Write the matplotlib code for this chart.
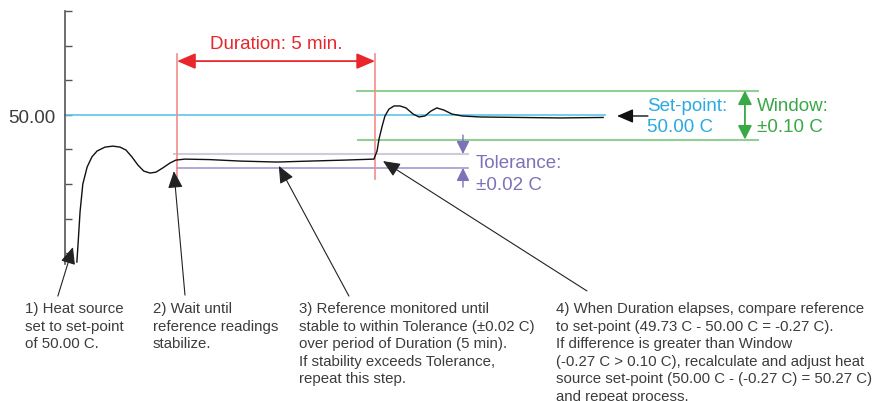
import matplotlib
matplotlib.use("Agg")
import matplotlib.pyplot as plt
from matplotlib.patches import FancyArrowPatch

plt.rcParams['font.family'] = ['Liberation Sans', 'DejaVu Sans']

# ---- data (time in minutes, temperature in C) ----
time_min = [0.30, 0.33, 0.38, 0.45, 0.56, 0.68, 0.81, 1.01, 1.21, 1.39, 1.54, 1.69,
            1.84, 1.99, 2.15, 2.30, 2.47, 2.65, 2.80, 3.03, 3.66, 4.42, 5.35, 6.19,
            7.07, 7.80, 7.88, 7.93, 8.01, 8.08, 8.18, 8.31, 8.46, 8.61, 8.79, 8.94,
            9.09, 9.24, 9.39, 9.57, 9.77, 10.03, 10.48, 11.49, 12.50, 13.59]
temp_c = [49.400, 49.473, 49.604, 49.718, 49.788, 49.829, 49.853, 49.869, 49.873,
          49.869, 49.857, 49.829, 49.796, 49.771, 49.763, 49.767, 49.784, 49.804,
          49.816, 49.820, 49.818, 49.812, 49.808, 49.812, 49.816, 49.820, 49.853,
          49.902, 49.955, 49.996, 50.024, 50.037, 50.037, 50.029, 50.004, 49.992,
          49.996, 50.016, 50.029, 50.020, 50.004, 49.996, 49.992, 49.990, 49.988,
          49.990]

setpoint = 50.00
window = 0.10
tol_upper = 49.841
tol_lower = 49.784
duration_start = 2.83
duration_end = 7.83
y_ticks = [50.4245, 50.2816, 50.1429, 50.0, 49.8612, 49.7184, 49.5755, 49.4367]
y_tick_labels = ["", "", "", "50.00", "", "", "", ""]

step_texts = [
    "1) Heat source\nset to set-point\nof 50.00 C.",
    "2) Wait until\nreference readings\nstabilize.",
    "3) Reference monitored until\nstable to within Tolerance (\u00b10.02 C)\n"
    "over period of Duration (5 min).\nIf stability exceeds Tolerance,\nrepeat this step.",
    "4) When Duration elapses, compare reference\n"
    "to set-point (49.73 C - 50.00 C = -0.27 C).\n"
    "If difference is greater than Window\n"
    "(-0.27 C > 0.10 C), recalculate and adjust heat\n"
    "source set-point (50.00 C - (-0.27 C) = 50.27 C)\n"
    "and repeat process.",
]
step_text_x = [-1.01, 2.21, 5.91, 12.40]
step_arrow_tail = [(-0.18, 49.261), (3.03, 49.265), (7.17, 49.261), (13.18, 49.282)]
step_arrow_head = [(0.20, 49.461), (2.75, 49.771), (5.40, 49.792), (8.03, 49.812)]

# ---- colours ----
RED = '#e8262b'
RED_LIGHT = '#f28b8b'
BLUE_LINE = '#5cc6e8'
BLUE_TEXT = '#2aaae0'
GREEN_LINE = '#93cf95'
GREEN = '#3aa845'
PURPLE_LINE = '#a49bd0'
PURPLE = '#7d72b8'
GREY_LINE = '#cfcbdc'
TEXT_GREY = '#3c3c3c'

fig = plt.figure(figsize=(8.73, 4.02), dpi=100)
ax = fig.add_axes([0, 0, 1, 1])
ax.set_xlim(-1.641, 20.404)
ax.set_ylim(48.8327, 50.4735)

for s in ['top', 'right', 'bottom']:
    ax.spines[s].set_visible(False)
ax.spines['left'].set_position(('data', 0))
ax.spines['left'].set_bounds(49.392, 50.4245)
ax.spines['left'].set_color('#555555')
ax.spines['left'].set_linewidth(1.2)
ax.set_xticks([])
ax.set_yticks(y_ticks)
ax.set_yticklabels(y_tick_labels)
ax.tick_params(axis='y', direction='in', length=5, width=1.0, color='#555555',
               pad=7, labelsize=13.5, labelcolor=TEXT_GREY)

# set-point line
ax.plot([0, 13.64], [setpoint, setpoint], color=BLUE_LINE, lw=1.2, zorder=2)
# window lines
ax.plot([7.37, 17.50], [setpoint + window] * 2, color=GREEN_LINE, lw=1.5, zorder=2)
ax.plot([7.40, 17.50], [setpoint - window] * 2, color=GREEN_LINE, lw=1.5, zorder=2)
# tolerance lines
ax.plot([2.75, 10.18], [tol_upper] * 2, color=GREY_LINE, lw=1.5, zorder=2)
ax.plot([2.83, 10.18], [tol_lower] * 2, color=PURPLE_LINE, lw=1.2, zorder=2)
# duration verticals
for t in (duration_start, duration_end):
    ax.plot([t, t], [49.739, 50.249], color=RED_LIGHT, lw=1.2, zorder=2)

# reference curve
ax.plot(time_min, temp_c, color='#111111', lw=1.0, zorder=4)


def arrow(p0, p1, color, lw, style, ms):
    a = FancyArrowPatch(p0, p1, arrowstyle=style, mutation_scale=ms, color=color,
                        lw=lw, shrinkA=0, shrinkB=0, zorder=5)
    ax.add_patch(a)


# duration arrow + label
arrow((duration_start, 50.220), (duration_end, 50.220), RED, 1.3,
      '<|-|>,head_length=0.7,head_width=0.3', 16)
ax.text((duration_start + duration_end) / 2, 50.290, "Duration: 5 min.", color=RED,
        fontsize=13.5, ha='center', va='center')

# set-point arrow + label
arrow((14.72, 49.996), (13.94, 49.996), '#111111', 1.0,
      '-|>,head_length=0.7,head_width=0.3', 14)
ax.text(14.70, 50.037, "Set-point:", color=BLUE_TEXT, fontsize=13.5, ha='left', va='center')
ax.text(14.70, 49.955, "50.00 C", color=BLUE_TEXT, fontsize=13.5, ha='left', va='center')

# window arrow + label
arrow((17.17, setpoint + window), (17.17, setpoint - window), GREEN, 1.3,
      '<|-|>,head_length=0.6,head_width=0.3', 14)
ax.text(17.47, 50.037, "Window:", color=GREEN, fontsize=13.5, ha='left', va='center')
ax.text(17.47, 49.955, "\u00b10.10 C", color=GREEN, fontsize=13.5, ha='left', va='center')

# tolerance arrows + label
arrow((10.05, 49.918), (10.05, tol_upper), PURPLE, 1.0,
      '-|>,head_length=0.6,head_width=0.3', 13)
arrow((10.05, 49.706), (10.05, tol_lower), PURPLE, 1.0,
      '-|>,head_length=0.6,head_width=0.3', 13)
ax.text(10.38, 49.808, "Tolerance:", color=PURPLE, fontsize=13.5, ha='left', va='center')
ax.text(10.38, 49.718, "\u00b10.02 C", color=PURPLE, fontsize=13.5, ha='left', va='center')

# step annotations
for txt, tx, tail, head in zip(step_texts, step_text_x, step_arrow_tail, step_arrow_head):
    arrow(tail, head, '#222222', 0.8, '-|>,head_length=0.8,head_width=0.35', 13)
    ax.text(tx, 49.241, txt, color=TEXT_GREY, fontsize=10.8, ha='left', va='top',
            linespacing=1.33)

fig.savefig('out.png', dpi=100)
